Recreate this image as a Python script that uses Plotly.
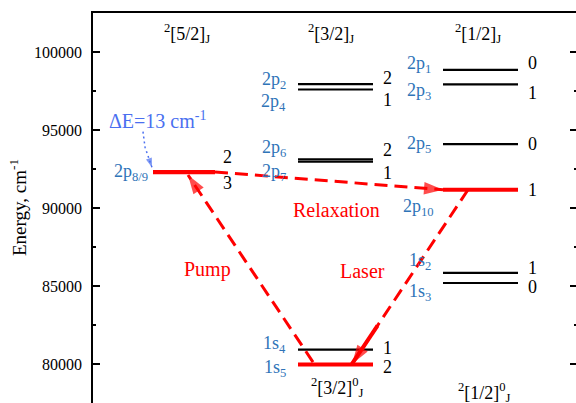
import plotly.graph_objects as go

# ---------------- data ----------------
level_names = ["2p1", "2p2", "2p3", "2p4", "2p5", "2p6", "2p7", "2p8", "2p9", "2p10",
               "1s2", "1s3", "1s4", "1s5"]
level_energy = [98855, 97945, 97919, 97596, 94093, 93123, 92964, 92307, 92294, 91169,
                85847, 85192, 80917, 79973]
level_J = [0, 2, 1, 1, 0, 2, 1, 2, 3, 1, 1, 0, 1, 2]
level_column = [2, 1, 2, 1, 2, 1, 1, 0, 0, 2, 2, 2, 1, 1]
laser_levels = ["2p8", "2p9", "2p10", "1s5"]

column_headers = ["<sup>2</sup>[5/2]<sub>J</sub>", "<sup>2</sup>[3/2]<sub>J</sub>",
                  "<sup>2</sup>[1/2]<sub>J</sub>"]
core_headers = ["<sup>2</sup>[3/2]<sup>0</sup><sub>J</sub>",
                "<sup>2</sup>[1/2]<sup>0</sup><sub>J</sub>"]
y_ticks = [80000, 85000, 90000, 95000, 100000]
delta_E_label = "ΔE=13 cm<sup>-1</sup>"

# ---------------- layout helpers ----------------
col_x = [91, 242.5, 387.5]        # column centres (x axis units)
col_half = [31, 37.5, 37.5]       # half length of a level line

name_shift = {"2p1": 5, "2p3": -7, "2p5": 0, "2p2": 4, "2p4": -13, "2p6": 11, "2p7": -11,
              "2p8": 0, "1s4": 5, "1s5": -4, "1s2": 11, "1s3": -9}
j_shift = {"2p1": 7, "2p3": -9, "2p5": 0, "2p10": 0, "2p2": 6, "2p4": -10, "2p6": 9,
           "2p7": -11, "2p8": 15, "2p9": -11, "1s4": 2, "1s5": -3, "1s2": 5, "1s3": -4}

RED = "#ff0000"
BLUE = "#2f74b8"
DBLUE = "#4a6ff0"
FONT = "Liberation Serif, Times New Roman, serif"

E = dict(zip(level_names, level_energy))

fig = go.Figure()

# level lines
for n, en, c in zip(level_names, level_energy, level_column):
    red = n in laser_levels
    fig.add_trace(go.Scatter(
        x=[col_x[c] - col_half[c], col_x[c] + col_half[c]], y=[en, en],
        mode="lines", line=dict(color=RED if red else "black", width=4 if red else 2.2),
        hoverinfo="skip", showlegend=False))

annotations = []

def text(x, y, s, color="black", size=18, xanchor="center", yshift=0, xshift=0):
    annotations.append(dict(x=x, y=y, xref="x", yref="y", text=s, showarrow=False,
                            font=dict(family=FONT, size=size, color=color),
                            xanchor=xanchor, yanchor="middle", yshift=yshift, xshift=xshift))

# level name labels (left of lines)
for n, en, c in zip(level_names, level_energy, level_column):
    if n == "2p9":
        continue
    label = "2p<sub>8/9</sub>" if n == "2p8" else n[:2] + "<sub>" + n[2:] + "</sub>"
    left = col_x[c] - col_half[c]
    if n == "2p10":
        text(left - 7, en, label, BLUE, xanchor="right", yshift=-18)
    elif n == "2p8":
        text(left - 3, en, label, BLUE, xanchor="right", yshift=0)
    else:
        text(left - 10, en, label, BLUE, xanchor="right", yshift=name_shift[n])

# J labels (right of lines)
for n, en, c, j in zip(level_names, level_energy, level_column, level_J):
    right = col_x[c] + col_half[c]
    text(right + (12 if c == 0 else 14), en, str(j), "black", yshift=j_shift[n])

# column headers
header_x = [94, 238, 385]
for hx, h in zip(header_x, column_headers):
    text(hx, 101218, h, "black")
text(244, 78462, core_headers[0], "black")
text(391, 78205, core_headers[1], "black")

# process labels
text(243, 89872, "Relaxation", RED, size=20)
text(114, 86026, "Pump", RED, size=20)
text(269, 85962, "Laser", RED, size=20)
text(64, 95641, delta_E_label, DBLUE, size=20)

# y-axis title
annotations.append(dict(x=-75 / 483, y=0.5, xref="paper", yref="paper",
                        text="Energy, cm<sup>-1</sup>", showarrow=False, textangle=-90,
                        font=dict(family=FONT, size=19, color="black"),
                        xanchor="center", yanchor="middle"))

def arrow(xs, ys, color, width, dash, head, solid_tail=0.0):
    fig.add_trace(go.Scatter(
        x=xs, y=ys, mode="lines", line=dict(color=color, width=width, dash=dash),
        hoverinfo="skip", showlegend=False))
    if solid_tail > 0:
        fx = xs[-1] + (xs[0] - xs[-1]) * solid_tail
        fy = ys[-1] + (ys[0] - ys[-1]) * solid_tail
        fig.add_trace(go.Scatter(
            x=[fx, xs[-1]], y=[fy, ys[-1]], mode="lines",
            line=dict(color=color, width=width + 1), hoverinfo="skip", showlegend=False))
    fig.add_trace(go.Scatter(
        x=xs[-2:], y=ys[-2:], mode="markers",
        marker=dict(symbol="arrow", angleref="previous", size=[0, head], color=color,
                    line=dict(width=0)),
        hoverinfo="skip", showlegend=False))

# Pump: 1s5 -> 2p8/9
arrow([col_x[1] - 22.5, col_x[0] + 4], [E["1s5"] + 150, E["2p9"] - 180], RED, 3, "13px,7px", 20)
# Relaxation: 2p8/9 -> 2p10
arrow([col_x[0] + col_half[0], col_x[2] - col_half[2]], [E["2p8"], E["2p10"]], RED, 3, "13px,7px", 20)
# Laser: 2p10 -> 1s5
arrow([col_x[2] - 12.5, col_x[1] + 16.5], [E["2p10"], E["1s5"] + 30], RED, 3, "13px,7px", 20,
      solid_tail=0.22)
# Delta E pointer
arrow([50, 52, 59], [94900, 93900, 92600], DBLUE, 1.5, "2px,3px", 10)

# invisible trace for right-hand tick axis
fig.add_trace(go.Scatter(x=[0], y=[90000], yaxis="y2", mode="markers",
                         marker=dict(opacity=0), hoverinfo="skip", showlegend=False))

fig.update_layout(
    width=576, height=403,
    margin=dict(l=93, r=0, t=13, b=0),
    paper_bgcolor="white", plot_bgcolor="white",
    font=dict(family=FONT, size=16, color="black"),
    annotations=annotations,
    xaxis=dict(range=[0, 483], side="top", showline=True, linecolor="black", linewidth=1.5,
               showticklabels=False, ticks="", showgrid=False, zeroline=False),
    yaxis=dict(range=[77500, 102500], tickvals=y_ticks, tickformat="d",
               showline=True, linecolor="black", linewidth=1.5,
               ticks="inside", ticklen=7, tickwidth=1.5, tickcolor="black",
               minor=dict(ticks="inside", ticklen=3, tickwidth=1.5, dtick=2500, tickcolor="black"),
               showgrid=False, zeroline=False, ticklabelstandoff=6,
               tickfont=dict(family=FONT, size=16)),
    yaxis2=dict(range=[77500, 102500], overlaying="y", side="right", tickvals=y_ticks,
                showticklabels=False, showline=False, ticks="inside", ticklen=6, tickwidth=1.5,
                tickcolor="black",
                minor=dict(ticks="inside", ticklen=2, tickwidth=1.5, dtick=2500, tickcolor="black"),
                showgrid=False, zeroline=False),
)

fig.write_html("out.html")
